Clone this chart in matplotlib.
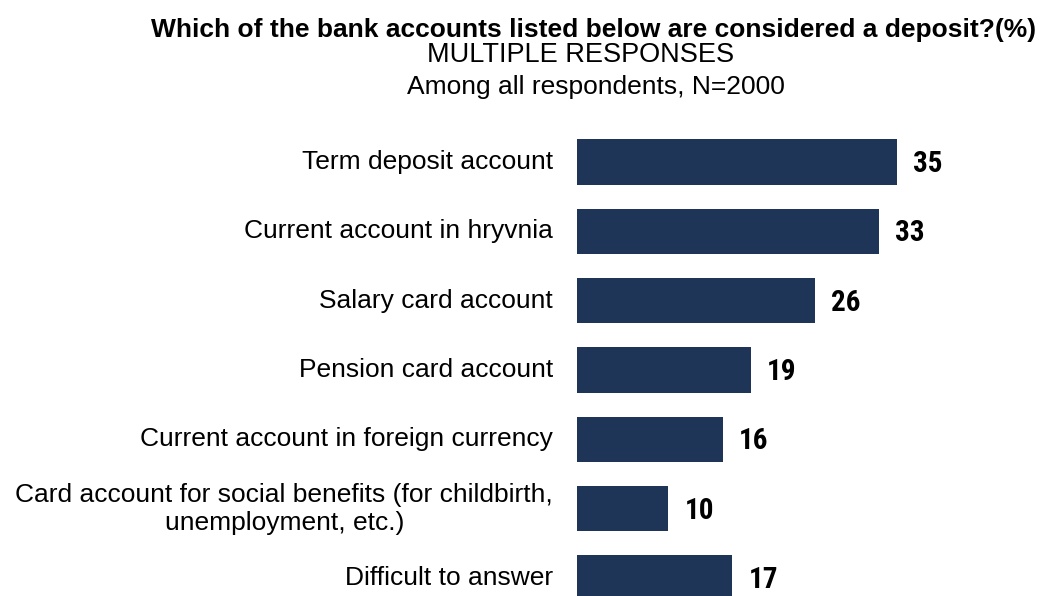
import matplotlib.pyplot as plt

categories = [
    'Term deposit account',
    'Current account in hryvnia',
    'Salary card account',
    'Pension card account',
    'Current account in foreign currency',
    'Card account for social benefits (for childbirth,\nunemployment, etc.)',
    'Difficult to answer',
]
values = [35, 33, 26, 19, 16, 10, 17]

bar_color = '#1F3558'
plt.rcParams['font.family'] = ['Liberation Sans', 'DejaVu Sans']

fig = plt.figure(figsize=(10.45, 5.96), dpi=100)
ax = fig.add_axes([577 / 1045, 0, 1 - 577 / 1045, 496 / 596])

pos = list(range(len(categories)))
ax.barh(pos, values, height=0.65, color=bar_color)
ax.set_xlim(0, 468 / 9.14)
ax.set_ylim(6.26, -0.894)
ax.axis('off')

# value labels right of the bars, category names left of them
for y, v, name in zip(pos, values, categories):
    ax.text(v + 1.75, y + 0.03, str(v), va='center', ha='left', fontsize=21,
            fontweight='bold', family=['Roboto Condensed', 'Liberation Sans'])
    ax.text(-2.6, y, name, va='center', ha='right', fontsize=19,
            multialignment='center', linespacing=1.2)

fig.text(594 / 1045, 1 - 30 / 596,
         'Which of the bank accounts listed below are considered a deposit?(%)',
         ha='center', va='center', fontsize=19, fontweight='bold')
fig.text(581 / 1045, 1 - 55 / 596, 'MULTIPLE RESPONSES',
         ha='center', va='center', fontsize=19.5)
fig.text(596 / 1045, 1 - 87 / 596, 'Among all respondents, N=2000',
         ha='center', va='center', fontsize=19)

fig.savefig('out.png', dpi=100)
